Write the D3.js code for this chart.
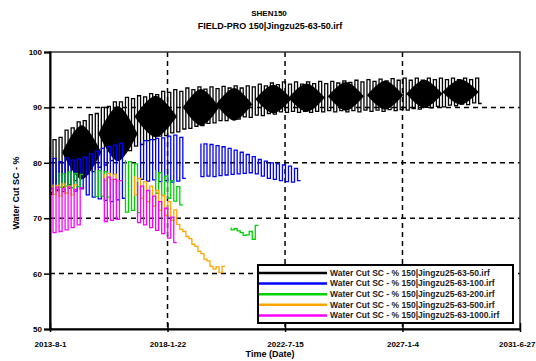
<!DOCTYPE html>
<html>
<head>
<meta charset="utf-8">
<script src="https://cdn.jsdelivr.net/npm/d3@7"></script>
<style>
  body { margin: 0; background: #fff; }
  svg { display: block; font-family: "Liberation Sans", Arial, sans-serif; }
</style>
</head>
<body>
<div id="chart"></div>
<script>
// axis ticks
const tickLabels = ['2013-8-1', '2018-1-22', '2022-7-15', '2027-1-4', '2031-6-27'];
const yTicks = [50, 60, 70, 80, 90, 100];

// every series is sampled from 2013-8-1, one value each 42 days (null = no data)
const startDate = '2013-8-1';
const stepDays = 42;

const seriesNames = [
  'Water Cut SC - % 150|Jingzu25-63-50.irf',
  'Water Cut SC - % 150|Jingzu25-63-100.irf',
  'Water Cut SC - % 150|Jingzu25-63-200.irf',
  'Water Cut SC - % 150|Jingzu25-63-500.irf',
  'Water Cut SC - % 150|Jingzu25-63-1000.irf'
];

const wc50 = [
  83.0, 74.3, 84.2, 75.0, 84.6, 75.6, 85.9, 76.0, 86.3, 76.8, 87.4, 77.2,
  87.6, 78.0, 88.7, 78.4, 88.9, 79.2, 90.0, 79.6, 90.2, 80.4, 91.0, 80.9,
  91.0, 81.8, 91.8, 82.2, 91.6, 83.0, 92.1, 83.3, 91.9, 84.0, 92.5, 84.2,
  92.3, 84.8, 92.9, 84.9, 92.7, 85.4, 93.2, 85.6, 92.9, 86.1, 93.5, 86.2,
  93.2, 86.6, 93.7, 86.7, 93.3, 87.1, 93.7, 87.2, 93.4, 87.6, 93.8, 87.6,
  93.5, 88.0, 93.9, 87.9, 93.5, 88.3, 93.9, 88.2, 93.7, 88.6, 94.2, 88.5,
  93.9, 88.9, 94.4, 88.8, 94.1, 89.2, 94.6, 89.1, 94.2, 89.3, 94.6, 89.1,
  94.2, 89.3, 94.6, 89.1, 94.3, 89.3, 94.7, 89.2, 94.3, 89.4, 94.7, 89.2,
  94.4, 89.4, 94.8, 89.2, 94.5, 89.4, 94.9, 89.2, 94.6, 89.5, 95.0, 89.3,
  94.7, 89.5, 95.1, 89.3, 94.8, 89.6, 95.2, 89.4, 94.9, 89.6, 95.3, 89.5,
  94.9, 89.8, 95.3, 89.7, 94.9, 90.0, 95.3, 89.9, 95.0, 90.2, 95.3, 90.1,
  95.0, 90.4, 95.3, 90.3, 95.0, 90.6, 95.3, 90.5, 95.0, 90.8, 95.3, 90.7
];
// dense parts of the 50 case: [first step, last step, low, high]
const wc50Dense = [
  [4, 17, 77.0, 86.8], [16, 29, 80.3, 90.2], [28, 42, 84.6, 92.1],
  [44, 56, 86.7, 93.3], [55, 67, 87.6, 93.5], [68, 80, 88.9, 94.1],
  [79, 91, 89.2, 94.3], [92, 104, 89.4, 94.6], [105, 117, 89.6, 94.8],
  [118, 130, 89.9, 95.0], [130, 142, 90.5, 95.1]
];

const wc100 = [
  80.4, 74.6, 80.8, 75.2, 80.2, 74.8, 80.9, 75.4, 80.5, 74.9, 80.7, 75.3,
  81.0, 74.2, 81.6, 73.8, 82.1, 73.5, 82.6, 73.2, 82.9, 73.0, 83.2, 73.3,
  83.5, 73.6, null, null, null, null, 83.6, 77.0, 84.0, 76.7, 84.2, 76.9,
  84.4, 76.6, 84.5, 76.8, 84.8, 76.5, 85.0, 76.7, 84.6, 77.2, null, null,
  null, null, 83.5, 77.5, 83.4, 77.6, 83.3, 77.5, 83.1, 77.7, 82.9, 77.8,
  82.6, 77.9, 82.3, 78.0, 81.9, 78.1, 81.5, 78.2, 81.1, 78.0, 80.6, 77.6,
  80.3, 77.2, 80.0, 77.0, 79.8, 76.8, 79.6, 76.6, 79.4, 76.5, 79.0, 76.8
];

const wc200 = [
  null, null, null, 78.2, 75.6, 78.0, 75.8, 78.3, 75.5, 78.1, 75.7, 77.9,
  null, null, null, 78.7, 73.9, 78.6, 74.0, 78.4, 73.8, null, null, null,
  null, 80.5, 71.1, 80.2, 71.4, 79.8, 71.0, null, null, null, null, 78.7,
  74.5, 78.2, 74.1, 77.6, 73.6, 76.8, 73.1, 75.7, 72.4, null, null, null,
  null, null, null, null, null, null, null, null, null, null, null, null,
  68.3, 67.9, 68.1, 67.7, 67.4, 66.9, 67.0, 67.6, 66.2, 68.7
];

const wc500 = [
  null, 76.1, 74.3, 75.9, 74.0, 76.2, 74.5, 75.8, 74.2, 76.0, null, null,
  null, null, null, null, null, null, 78.0, 76.8, 78.1, 76.9, 77.9, 76.7,
  null, null, null, null, 77.6, 74.2, 77.2, 73.6, 76.6, 73.0, 75.8, 72.2,
  75.0, 71.4, 74.1, 70.5, 73.0, 69.6, 71.5, 68.9, 68.0, 67.6, 66.7, 66.3,
  65.3, 64.9, 64.0, 63.6, 62.6, 62.3, 61.3, 60.8, 61.2, 60.2, 61.3
];

const wc1000 = [
  50.0, 75.4, 67.4, 75.6, 67.6, 75.3, 67.9, 75.6, 68.3, 75.2, 68.8, 75.5,
  null, null, null, null, null, null, 77.2, 69.4, 77.4, 69.6, 77.0, 69.8,
  76.8, null, null, null, null, 76.6, 69.2, 75.8, 68.8, 75.0, 68.3, 74.0,
  67.8, 73.0, 67.2, 71.8, 66.4, 70.2, 65.6
];

const colors = ['#000000', '#0000ff', '#00d200', '#ffa500', '#ff00ff'];

const width = 536, height = 361;
const margin = {top: 52, right: 16, bottom: 32, left: 50};

const parse = d3.utcParse('%Y-%m-%d');
const t0 = parse(startDate);
const tickDates = tickLabels.map(parse);

const x = d3.scaleUtc()
  .domain([tickDates[0], tickDates[tickDates.length - 1]])
  .range([margin.left, width - margin.right]);
const y = d3.scaleLinear()
  .domain([50, 100])
  .range([height - margin.bottom, margin.top]);

const stepX = i => x(d3.utcDay.offset(t0, i * stepDays));

const svg = d3.select('#chart').append('svg')
  .attr('width', width)
  .attr('height', height);

// title
svg.append('text')
  .attr('x', 269).attr('y', 16)
  .attr('text-anchor', 'middle')
  .attr('font-size', 8).attr('font-weight', 'bold')
  .text('SHEN150');
svg.append('text')
  .attr('x', 270).attr('y', 29)
  .attr('text-anchor', 'middle')
  .attr('font-size', 9).attr('font-weight', 'bold')
  .text('FIELD-PRO 150|Jingzu25-63-50.irf');

// dashed grid
const grid = svg.append('g')
  .attr('stroke', '#000')
  .attr('stroke-width', 1.5)
  .attr('stroke-dasharray', '5,4');
grid.selectAll('line.h')
  .data(yTicks.slice(1, -1))
  .enter().append('line')
  .attr('x1', margin.left).attr('x2', width - margin.right)
  .attr('y1', d => y(d)).attr('y2', d => y(d));
grid.selectAll('line.v')
  .data(tickDates.slice(1, -1))
  .enter().append('line')
  .attr('x1', d => x(d)).attr('x2', d => x(d))
  .attr('y1', margin.top).attr('y2', height - margin.bottom);

const plot = svg.append('g');

// dense black parts
const area = d3.area()
  .curve(d3.curveCatmullRom)
  .x(d => stepX(d[0]))
  .y0(d => y(d[1]))
  .y1(d => y(d[2]));
plot.selectAll('path.dense')
  .data(wc50Dense)
  .enter().append('path')
  .attr('fill', colors[0])
  .attr('d', d => {
    const mid = (d[2] + d[3]) / 2;
    const span = d[1] - d[0];
    return area([[d[0], mid, mid], [d[0] + span / 2, d[2], d[3]], [d[1], mid, mid]]);
  });

const line = d3.line()
  .defined(d => d != null)
  .curve(d3.curveStepBefore)
  .x((d, i) => stepX(i))
  .y(d => y(d));

[wc50, wc100, wc200, wc500, wc1000].forEach((s, k) => {
  plot.append('path')
    .attr('fill', 'none')
    .attr('stroke', colors[k])
    .attr('stroke-width', 1.3)
    .attr('d', line(s));
});

// frame + axes
svg.append('rect')
  .attr('x', margin.left).attr('y', margin.top)
  .attr('width', width - margin.left - margin.right)
  .attr('height', height - margin.top - margin.bottom)
  .attr('fill', 'none')
  .attr('stroke', '#333')
  .attr('stroke-width', 1.5);

const yAxis = svg.append('g')
  .attr('transform', `translate(${margin.left},0)`)
  .call(d3.axisLeft(y).tickValues(yTicks).tickSize(6).tickPadding(2));
const xAxis = svg.append('g')
  .attr('transform', `translate(0,${height - margin.bottom})`)
  .call(d3.axisBottom(x).tickValues(tickDates).tickSizeInner(-6).tickSizeOuter(0)
    .tickFormat((d, i) => tickLabels[i]).tickPadding(12));
[yAxis, xAxis].forEach(a => {
  a.select('.domain').attr('stroke', '#000').attr('stroke-width', 2);
  a.selectAll('.tick line').attr('stroke', '#000').attr('stroke-width', 1.5);
  a.selectAll('.tick text')
    .attr('font-family', '"Liberation Sans", Arial, sans-serif')
    .attr('font-size', 8).attr('font-weight', 'bold').attr('fill', '#000');
});
xAxis.selectAll('.tick line').attr('y2', 3).attr('y1', -6);
// last date label sits against the right edge
xAxis.selectAll('.tick').filter((d, i) => i === tickLabels.length - 1)
  .select('text').attr('text-anchor', 'end').attr('dx', width - 1 - x.range()[1]);

// axis titles
svg.append('text')
  .attr('x', 270).attr('y', 357)
  .attr('text-anchor', 'middle')
  .attr('font-size', 9).attr('font-weight', 'bold')
  .text('Time (Date)');
svg.append('text')
  .attr('transform', 'translate(19,193) rotate(-90)')
  .attr('text-anchor', 'middle')
  .attr('font-size', 9).attr('font-weight', 'bold')
  .text('Water Cut SC - %');

// legend
const legend = svg.append('g').attr('transform', 'translate(258,265)');
legend.append('rect')
  .attr('width', 255).attr('height', 58)
  .attr('fill', '#fff')
  .attr('stroke', '#000').attr('stroke-width', 2);
const item = legend.selectAll('g.item')
  .data(seriesNames)
  .enter().append('g')
  .attr('transform', (d, i) => `translate(0,${8 + i * 10.6})`);
item.append('line')
  .attr('x1', 1).attr('x2', 69)
  .attr('stroke', (d, i) => colors[i])
  .attr('stroke-width', 2.5);
item.append('text')
  .attr('x', 72).attr('y', 2.8)
  .attr('font-size', 8.5).attr('font-weight', 'bold')
  .attr('fill', '#222')
  .text(d => d);
</script>
</body>
</html>
